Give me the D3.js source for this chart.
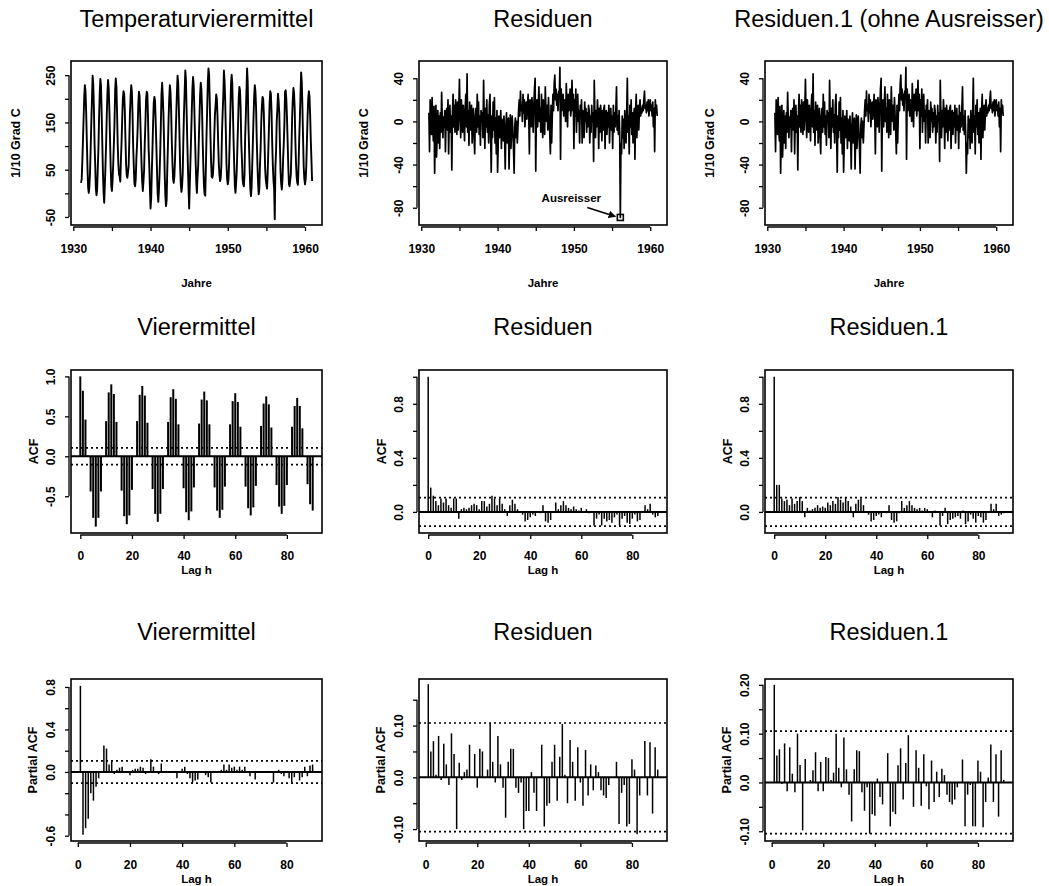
<!DOCTYPE html>
<html>
<head>
<meta charset="utf-8">
<script src="https://cdn.jsdelivr.net/npm/d3@7"></script>
<style>
  body { margin: 0; background: #fff; }
  svg { display: block; }
  text { font-family: "Liberation Sans", Arial, Helvetica, sans-serif; fill: #000; }
</style>
</head>
<body>
<svg id="chart" width="1049" height="886"></svg>
<script>
// ---- Monthly temperature means (1/10 °C), Jan 1931 – Dec 1960 ----
const startYear = 1931;
const temperature = [
  22, 30, 68, 112, 160, 205, 229, 215, 170, 112, 55, 12,
  1, 15, 45, 98, 152, 200, 249, 230, 180, 105, 60, 10,
  -4, 8, 52, 95, 158, 210, 242, 228, 172, 108, 45, 2,
  -20, 18, 60, 108, 165, 212, 240, 222, 178, 118, 58, 15,
  5, 28, 62, 104, 150, 218, 243, 225, 170, 102, 62, 40,
  36, 25, 72, 110, 160, 200, 216, 210, 175, 115, 62, 38,
  33, 45, 58, 112, 170, 205, 229, 214, 168, 98, 55, 20,
  15, 30, 75, 102, 140, 190, 215, 205, 160, 110, 62, 25,
  5, 25, 50, 105, 148, 198, 215, 212, 165, 95, 60, 10,
  -32, -10, 45, 95, 150, 192, 204, 195, 150, 102, 50, 0,
  -18, 5, 40, 85, 145, 210, 234, 205, 168, 108, 40, -5,
  -27, -15, 50, 100, 155, 200, 229, 215, 175, 112, 65, 30,
  22, 35, 70, 120, 168, 215, 249, 232, 180, 120, 55, 20,
  3, 15, 42, 115, 172, 215, 260, 240, 178, 115, 60, 10,
  -32, 20, 68, 118, 170, 220, 246, 230, 182, 125, 70, 25,
  1, 35, 58, 112, 160, 208, 234, 220, 178, 110, 58, 15,
  -2, -5, 55, 125, 178, 235, 264, 250, 195, 125, 70, 35,
  33, 40, 70, 122, 165, 185, 209, 200, 165, 110, 65, 40,
  26, 32, 58, 128, 170, 205, 260, 238, 195, 130, 62, 30,
  19, 28, 60, 112, 172, 230, 251, 232, 172, 112, 60, 15,
  1, 22, 50, 100, 148, 200, 225, 218, 180, 105, 72, 30,
  19, 15, 40, 118, 162, 215, 264, 235, 150, 100, 52, 10,
  -6, 12, 60, 108, 160, 205, 229, 215, 180, 115, 65, 25,
  -2, 8, 58, 95, 150, 185, 204, 200, 170, 115, 55, 30,
  19, 10, 42, 92, 140, 190, 216, 210, 172, 108, 60, 28,
  10, -55, 55, 88, 150, 178, 211, 195, 170, 105, 45, 20,
  8, 30, 72, 105, 148, 215, 218, 198, 160, 110, 58, 20,
  15, 28, 40, 95, 160, 198, 223, 212, 178, 112, 65, 35,
  22, 18, 60, 115, 158, 210, 256, 235, 180, 115, 55, 30,
  19, 30, 58, 112, 162, 200, 216, 205, 165, 112, 70, 26
];

// ---- Residuals after removing the seasonal component (1/10 °C) ----
const residuals = [
  8, -28, 20, 3, -12, 22, -5, -18, 14, -48, -8, 15,
  -33, -12, 10, -20, 5, -25, 8, -10, 27, 2, -15, 4,
  -5, 10, -28, 6, 12, -8, 20, -30, 3, 15, -10, 5,
  -45, 8, 25, -5, 15, -10, 20, 5, -12, 18, -8, 10,
  39, 5, -15, 20, 8, -10, 15, 3, -18, 12, 25, -5,
  44, -10, 10, -22, 18, 2, -8, 15, -20, 5, 12, -15,
  -30, 5, 12, -10, 25, -5, 18, -12, 5, -22, 10, 2,
  8, -15, 38, 0, -25, 12, -5, 20, -10, 6, -20, 15,
  25, -10, -47, 5, -15, 18, -8, 22, -20, 3, -30, 10,
  -47, -20, 5, -15, -8, 10, -25, 2, -10, -18, 5, -12,
  -44, -5, 8, -20, -10, 3, -44, -15, 6, -25, -8, 5,
  -10, -25, -48, -5, 3, -15, 0, -20, -5, 10, 20, 5,
  28, 10, 15, 0, 25, 8, 20, -5, 12, 18, 2, 15,
  25, 5, -30, 20, 10, -5, 22, 12, -10, 15, 30, 40,
  -46, 10, 20, -5, 15, 32, 0, 12, -10, 25, 8, -15,
  20, 5, -12, 32, 10, 0, 15, -8, 22, 5, -10, -30,
  15, -20, 5, 25, 10, 35, 43, 20, 30, 15, 25, 10,
  28, 22, 50, -35, 30, 10, 15, 25, 5, 20, 12, 0,
  35, 15, -5, 25, 10, 20, 30, 5, 15, 38, 10, 25,
  -25, 20, 5, 30, -10, 15, 25, 0, 10, -20, 15, 5,
  20, -20, 10, 5, -15, 18, 0, 12, -10, 8, -5, 15,
  10, -20, 5, -10, 15, 0, 8, -37, 38, 5, -15, 10,
  -5, 20, 8, -25, 12, -10, 15, 3, -18, 10, -8, 12,
  15, -25, 5, 10, -12, 8, -5, 15, -20, 3, 12, -8,
  5, -25, 15, -10, 8, -5, 12, 32, -8, 5, -12, 10,
  -10, -89, -20, -30, 5, -15, 2, -25, 10, -5, -20, 8,
  40, -10, 5, -30, 15, -5, 20, -12, 8, -20, 5, 12,
  -35, 10, 25, -15, 5, 15, -8, 10, 20, 5, 12, 8,
  15, 10, 20, 28, 12, 15, 8, 18, 10, 20, 5, 15,
  20, 10, 15, 5, 18, -5, 12, -28, 20, 8, 15, 5
];

// The outlier (February 1956) and the value that replaces it in Residuen.1
const outlierIndex = 301;
const outlierReplacement = -48;
const residuals1 = residuals.map((v, i) => (i === outlierIndex ? outlierReplacement : v));

// ---- Autocorrelations, lags 0..90 ----
const acfTemp = [
  1.00, 0.82, 0.46, 0.01, -0.44, -0.77, -0.88, -0.77, -0.44, 0.00,
  0.44, 0.80, 0.90, 0.78, 0.43, -0.01, -0.43, -0.75, -0.85, -0.74,
  -0.42, 0.00, 0.44, 0.77, 0.88, 0.76, 0.42, 0.00, -0.41, -0.72,
  -0.82, -0.72, -0.41, 0.01, 0.43, 0.74, 0.84, 0.72, 0.40, 0.00,
  -0.40, -0.70, -0.80, -0.69, -0.39, 0.00, 0.41, 0.71, 0.81, 0.70,
  0.40, 0.00, -0.39, -0.68, -0.77, -0.67, -0.38, 0.00, 0.40, 0.69,
  0.79, 0.68, 0.37, -0.01, -0.38, -0.65, -0.74, -0.64, -0.37, 0.00,
  0.38, 0.66, 0.75, 0.65, 0.36, 0.00, -0.36, -0.63, -0.72, -0.62,
  -0.36, 0.00, 0.37, 0.63, 0.73, 0.63, 0.35, 0.00, -0.35, -0.60,
  -0.68
];
const acfRes = [
  1.00, 0.18, 0.12, 0.08, 0.05, 0.10, 0.07, 0.10, 0.05, 0.03,
  0.10, 0.10, -0.05, 0.02, 0.03, 0.02, 0.03, 0.05, 0.06, 0.05,
  0.02, 0.08, 0.08, 0.04, 0.06, 0.12, 0.10, 0.05, 0.10, 0.06,
  0.02, -0.03, 0.05, 0.09, 0.06, 0.02, 0.00, -0.02, -0.07, -0.06,
  -0.04, -0.02, -0.03, 0.00, -0.01, 0.05, -0.07, -0.08, -0.06, 0.00,
  0.07, 0.02, 0.05, 0.08, 0.05, 0.03, 0.02, 0.04, 0.02, 0.01,
  0.03, 0.00, 0.02, -0.01, 0.00, -0.10, -0.05, -0.02, -0.10, -0.05,
  -0.07, -0.06, -0.08, -0.04, -0.02, -0.10, -0.05, -0.03, -0.08, -0.09,
  -0.05, -0.02, -0.07, -0.06, 0.00, 0.05, 0.02, 0.06, -0.02, -0.04,
  -0.03
];
const acfRes1 = [
  1.00, 0.20, 0.20, 0.10, 0.08, 0.09, 0.05, 0.10, 0.06, 0.08,
  0.11, 0.08, -0.04, 0.03, 0.01, 0.02, 0.03, 0.05, 0.03, 0.04,
  0.03, 0.07, 0.05, 0.08, 0.06, 0.11, 0.09, 0.07, 0.11, 0.08,
  0.04, -0.04, 0.06, 0.09, 0.10, 0.05, 0.00, -0.02, -0.07, -0.06,
  -0.03, -0.02, -0.04, 0.00, -0.01, 0.05, -0.06, -0.08, -0.07, -0.01,
  0.08, 0.03, 0.05, 0.08, 0.05, 0.03, 0.02, 0.03, 0.01, 0.03,
  0.02, 0.00, -0.04, 0.01, 0.00, -0.10, -0.03, 0.03, -0.09, -0.06,
  -0.05, -0.04, -0.03, -0.05, 0.01, -0.09, -0.07, -0.02, -0.05, -0.08,
  -0.03, -0.04, -0.08, -0.06, 0.00, 0.06, 0.02, 0.06, -0.03, -0.02,
  -0.01
];

// ---- Partial autocorrelations, lags 1..90 ----
const pacfTemp = [
  0.81, -0.59, -0.53, -0.44, -0.20, -0.27, -0.14, -0.06, 0.00, 0.25,
  0.22, 0.07, 0.10, -0.02, 0.02, 0.04, 0.05, -0.01, 0.00, -0.03,
  0.02, 0.03, 0.03, 0.05, 0.04, -0.02, -0.01, 0.12, 0.05, -0.01,
  -0.02, 0.08, 0.00, 0.01, -0.01, 0.00, 0.01, -0.06, 0.00, 0.03,
  0.05, -0.02, -0.06, -0.10, -0.08, -0.07, 0.00, -0.01, -0.03, -0.05,
  -0.10, 0.01, 0.00, 0.01, 0.02, 0.07, 0.02, 0.07, 0.04, 0.05,
  0.02, 0.05, 0.02, 0.05, 0.01, -0.04, -0.01, -0.07, 0.00, -0.01,
  0.00, 0.00, 0.01, 0.00, -0.10, 0.00, 0.02, -0.02, -0.04, 0.00,
  -0.06, -0.10, -0.05, 0.00, -0.08, -0.05, 0.05, -0.04, 0.06, 0.07
];
const pacfRes = [
  0.18, 0.05, 0.07, 0.005, 0.08, -0.005, 0.065, 0.025, -0.015, 0.085,
  0.045, -0.10, 0.028, -0.005, 0.01, 0.015, 0.063, 0.00, 0.045, -0.02,
  0.055, 0.05, 0.00, 0.015, 0.105, 0.03, -0.01, 0.08, 0.025, -0.02,
  -0.078, 0.03, 0.055, 0.055, -0.02, -0.03, -0.01, -0.10, -0.065, -0.065,
  0.01, -0.03, -0.065, 0.00, 0.063, -0.095, -0.055, -0.05, 0.03, 0.063,
  -0.045, 0.04, 0.103, 0.005, -0.05, 0.072, 0.03, -0.045, 0.058, -0.01,
  -0.055, 0.053, -0.035, 0.025, -0.025, 0.023, 0.01, -0.025, -0.035, -0.04,
  -0.015, 0.00, 0.00, 0.03, -0.09, -0.03, -0.015, -0.095, -0.09, 0.035,
  0.015, -0.11, -0.035, 0.00, 0.07, -0.035, 0.068, -0.07, 0.058, 0.015
];
const pacfRes1 = [
  0.20, 0.055, 0.068, -0.003, 0.08, -0.018, 0.072, 0.018, -0.02, 0.10,
  0.036, -0.098, 0.048, 0.00, 0.005, 0.025, 0.062, -0.018, 0.042, -0.018,
  0.052, 0.05, 0.005, 0.02, 0.10, 0.03, -0.01, 0.092, 0.027, -0.025,
  -0.08, 0.027, 0.066, 0.064, -0.02, -0.058, -0.01, -0.105, -0.065, -0.068,
  0.008, -0.03, -0.045, 0.00, 0.06, -0.09, -0.06, -0.065, 0.035, 0.07,
  -0.035, 0.04, 0.097, 0.00, -0.05, 0.066, 0.03, -0.048, 0.058, -0.008,
  -0.055, 0.045, -0.04, 0.022, -0.03, 0.028, 0.015, -0.025, -0.04, -0.045,
  -0.035, -0.01, 0.00, 0.047, -0.09, -0.025, -0.005, -0.09, -0.09, 0.045,
  0.022, -0.092, -0.04, 0.01, 0.078, -0.04, 0.058, -0.07, 0.066, 0.005
];

// Approximate 95% band for white noise with n = 360
const confBand = 0.105;

// ---- Text ----
const rowTitles = [
  ["Temperaturvierermittel", "Residuen", "Residuen.1 (ohne Ausreisser)"],
  ["Vierermittel", "Residuen", "Residuen.1"],
  ["Vierermittel", "Residuen", "Residuen.1"]
];
const yearTicks = [1930, 1935, 1940, 1945, 1950, 1955, 1960];
const yearTickLabels = ["1930", "", "1940", "", "1950", "", "1960"];
const lagTicks = [0, 20, 40, 60, 80];
const lagTickLabels = ["0", "20", "40", "60", "80"];

const tempTicks = [-50, 0, 50, 100, 150, 200, 250];
const tempTickLabels = ["-50", "", "50", "", "150", "", "250"];
const resTicks = [-80, -60, -40, -20, 0, 20, 40];
const resTickLabels = ["-80", "", "-40", "", "0", "", "40"];
const acfTempTicks = [-0.5, 0, 0.5, 1.0];
const acfTempTickLabels = ["-0.5", "0.0", "0.5", "1.0"];
const acfResTicks = [0, 0.2, 0.4, 0.6, 0.8, 1.0];
const acfResTickLabels = ["0.0", "", "0.4", "", "0.8", ""];
const pacfTempTicks = [-0.6, -0.4, -0.2, 0, 0.2, 0.4, 0.6, 0.8];
const pacfTempTickLabels = ["-0.6", "", "", "0.0", "", "0.4", "", "0.8"];
const pacfResTicks = [-0.10, -0.05, 0, 0.05, 0.10, 0.15];
const pacfResTickLabels = ["-0.10", "", "0.0", "", "0.10", ""];
const pacfRes1Ticks = [-0.10, -0.05, 0, 0.05, 0.10, 0.15, 0.20];
const pacfRes1TickLabels = ["-0.10", "", "0.0", "", "0.10", "", "0.20"];

// ---- Layout ----
const svg = d3.select("#chart");
const cols = [{ x0: 71, x1: 322 }, { x0: 419, x1: 667 }, { x0: 765, x1: 1013 }];
const rows = [
  { y0: 61, y1: 225, titleY: 27, tickDy: 24, xTitle: "Jahre", xTitleDy: 58, yTitleDx: 55 },
  { y0: 370, y1: 533, titleY: 335, tickDy: 23, xTitle: "Lag h", xTitleDy: 37, yTitleDx: 37 },
  { y0: 679, y1: 841, titleY: 640, tickDy: 24, xTitle: "Lag h", xTitleDy: 38, yTitleDx: 38 }
];
const timeDomain = [1929.7, 1962.2];
const acfDomain = [-3.6, 93.6];
const pacfDomain = [-2.6, 93.6];

function frame(ci, ri, xDomain, yDomain, yTicks, yLabels, xTicks, xLabels, yTitle) {
  const c = cols[ci], r = rows[ri];
  const x = d3.scaleLinear().domain(xDomain).range([c.x0, c.x1]);
  const y = d3.scaleLinear().domain(yDomain).range([r.y1, r.y0]);
  const g = svg.append("g");

  // title
  g.append("text")
    .attr("x", (c.x0 + c.x1) / 2).attr("y", r.titleY)
    .attr("text-anchor", "middle")
    .style("font-size", "23.5px")
    .text(rowTitles[ri][ci]);

  // left axis
  const ya = g.append("g").attr("transform", `translate(${c.x0 - 2},0)`)
    .call(d3.axisLeft(y).tickValues(yTicks).tickSize(4).tickSizeOuter(0)
      .tickFormat((d, i) => yLabels[i]));
  ya.select(".domain").attr("d", `M0,${y(d3.min(yTicks))}V${y(d3.max(yTicks))}`);
  ya.selectAll("line").attr("stroke-width", 1.3);
  ya.select(".domain").attr("stroke-width", 1.3);
  ya.selectAll("text")
    .attr("x", null).attr("dy", null)
    .attr("transform", "translate(-18,0) rotate(-90)")
    .attr("text-anchor", "middle")
    .attr("dominant-baseline", "central")
    .style("font-size", "12px").style("font-weight", "bold")
    .style("font-family", "'Liberation Sans', Arial, sans-serif");

  // bottom axis
  const xa = g.append("g").attr("transform", `translate(0,${r.y1 + 2})`)
    .call(d3.axisBottom(x).tickValues(xTicks).tickSize(4).tickSizeOuter(0)
      .tickFormat((d, i) => xLabels[i]));
  xa.select(".domain").attr("d", `M${x(d3.min(xTicks))},0H${x(d3.max(xTicks))}`);
  xa.selectAll("line").attr("stroke-width", 1.3);
  xa.select(".domain").attr("stroke-width", 1.3);
  xa.selectAll("text")
    .attr("y", r.tickDy - 2).attr("dy", null)
    .attr("dominant-baseline", "central")
    .style("font-size", "12px").style("font-weight", "bold")
    .style("font-family", "'Liberation Sans', Arial, sans-serif");

  // axis titles
  g.append("text")
    .attr("x", (c.x0 + c.x1) / 2).attr("y", r.y1 + r.xTitleDy)
    .attr("text-anchor", "middle").attr("dominant-baseline", "central")
    .style("font-size", "11.5px").style("font-weight", "bold")
    .text(r.xTitle);
  g.append("text")
    .attr("transform", `translate(${c.x0 - r.yTitleDx},${(r.y0 + r.y1) / 2}) rotate(-90)`)
    .attr("text-anchor", "middle").attr("dominant-baseline", "central")
    .style("font-size", "12.5px").style("font-weight", "bold")
    .text(yTitle);

  // plot box
  g.append("rect")
    .attr("x", c.x0).attr("y", r.y0)
    .attr("width", c.x1 - c.x0).attr("height", r.y1 - r.y0)
    .attr("fill", "none").attr("stroke", "#000").attr("stroke-width", 1.6);

  return { g, x, y, c, r };
}

function timePanel(ci, series, yDomain, yTicks, yLabels, lw) {
  const p = frame(ci, 0, timeDomain, yDomain, yTicks, yLabels, yearTicks, yearTickLabels, "1/10 Grad C");
  const line = d3.line()
    .x((d, i) => p.x(startYear + i / 12))
    .y(d => p.y(d));
  p.g.append("path").datum(series)
    .attr("d", line)
    .attr("fill", "none").attr("stroke", "#000")
    .attr("stroke-width", lw).attr("stroke-linejoin", "round");
  return p;
}

function corrPanel(ci, ri, values, firstLag, xDomain, yDomain, yTicks, yLabels, yTitle, lw) {
  const p = frame(ci, ri, xDomain, yDomain, yTicks, yLabels, lagTicks, lagTickLabels, yTitle);
  const data = values.map((v, i) => ({ lag: firstLag + i, v }));
  p.g.selectAll("line.bar").data(data).join("line")
    .attr("class", "bar")
    .attr("x1", d => p.x(d.lag)).attr("x2", d => p.x(d.lag))
    .attr("y1", p.y(0)).attr("y2", d => p.y(d.v))
    .attr("stroke", "#000").attr("stroke-width", lw);
  // zero line
  p.g.append("line")
    .attr("x1", p.c.x0).attr("x2", p.c.x1)
    .attr("y1", p.y(0)).attr("y2", p.y(0))
    .attr("stroke", "#000").attr("stroke-width", 2);
  // significance band
  [confBand, -confBand].forEach(b => {
    p.g.append("line")
      .attr("x1", p.c.x0).attr("x2", p.c.x1)
      .attr("y1", p.y(b)).attr("y2", p.y(b))
      .attr("stroke", "#000").attr("stroke-width", 1.7)
      .attr("stroke-dasharray", "2,3");
  });
  return p;
}

// Row 1: series
timePanel(0, temperature, [-67, 280], tempTicks, tempTickLabels, 1.9);
const pRes = timePanel(1, residuals, [-96, 56], resTicks, resTickLabels, 1.7);
timePanel(2, residuals1, [-96, 56], resTicks, resTickLabels, 1.7);

// Outlier annotation
{
  const ox = pRes.x(startYear + outlierIndex / 12);
  const oy = pRes.y(residuals[outlierIndex]);
  const defs = svg.append("defs");
  defs.append("marker").attr("id", "arrowhead")
    .attr("viewBox", "0 0 10 10").attr("refX", 9).attr("refY", 5)
    .attr("markerWidth", 5).attr("markerHeight", 5).attr("orient", "auto")
    .append("path").attr("d", "M0,0L10,5L0,10z").attr("fill", "#000");
  pRes.g.append("rect")
    .attr("x", ox - 3).attr("y", oy - 3).attr("width", 6).attr("height", 6)
    .attr("fill", "none").attr("stroke", "#000").attr("stroke-width", 1.6);
  pRes.g.append("line")
    .attr("x1", ox - 33).attr("y1", oy - 10)
    .attr("x2", ox - 5).attr("y2", oy - 1)
    .attr("stroke", "#000").attr("stroke-width", 1.5)
    .attr("marker-end", "url(#arrowhead)");
  pRes.g.append("text")
    .attr("x", ox - 49).attr("y", oy - 19)
    .attr("text-anchor", "middle").attr("dominant-baseline", "central")
    .style("font-size", "11.5px").style("font-weight", "bold")
    .text("Ausreisser");
}

// Row 2: autocorrelation functions
corrPanel(0, 1, acfTemp, 0, acfDomain, [-0.96, 1.08], acfTempTicks, acfTempTickLabels, "ACF", 2);
corrPanel(1, 1, acfRes, 0, acfDomain, [-0.156, 1.05], acfResTicks, acfResTickLabels, "ACF", 1.5);
corrPanel(2, 1, acfRes1, 0, acfDomain, [-0.156, 1.05], acfResTicks, acfResTickLabels, "ACF", 1.5);

// Row 3: partial autocorrelation functions
corrPanel(0, 2, pacfTemp, 1, pacfDomain, [-0.65, 0.875], pacfTempTicks, pacfTempTickLabels, "Partial ACF", 1.5);
corrPanel(1, 2, pacfRes, 1, pacfDomain, [-0.123, 0.19], pacfResTicks, pacfResTickLabels, "Partial ACF", 1.5);
corrPanel(2, 2, pacfRes1, 1, pacfDomain, [-0.12, 0.212], pacfRes1Ticks, pacfRes1TickLabels, "Partial ACF", 1.5);
</script>
</body>
</html>
